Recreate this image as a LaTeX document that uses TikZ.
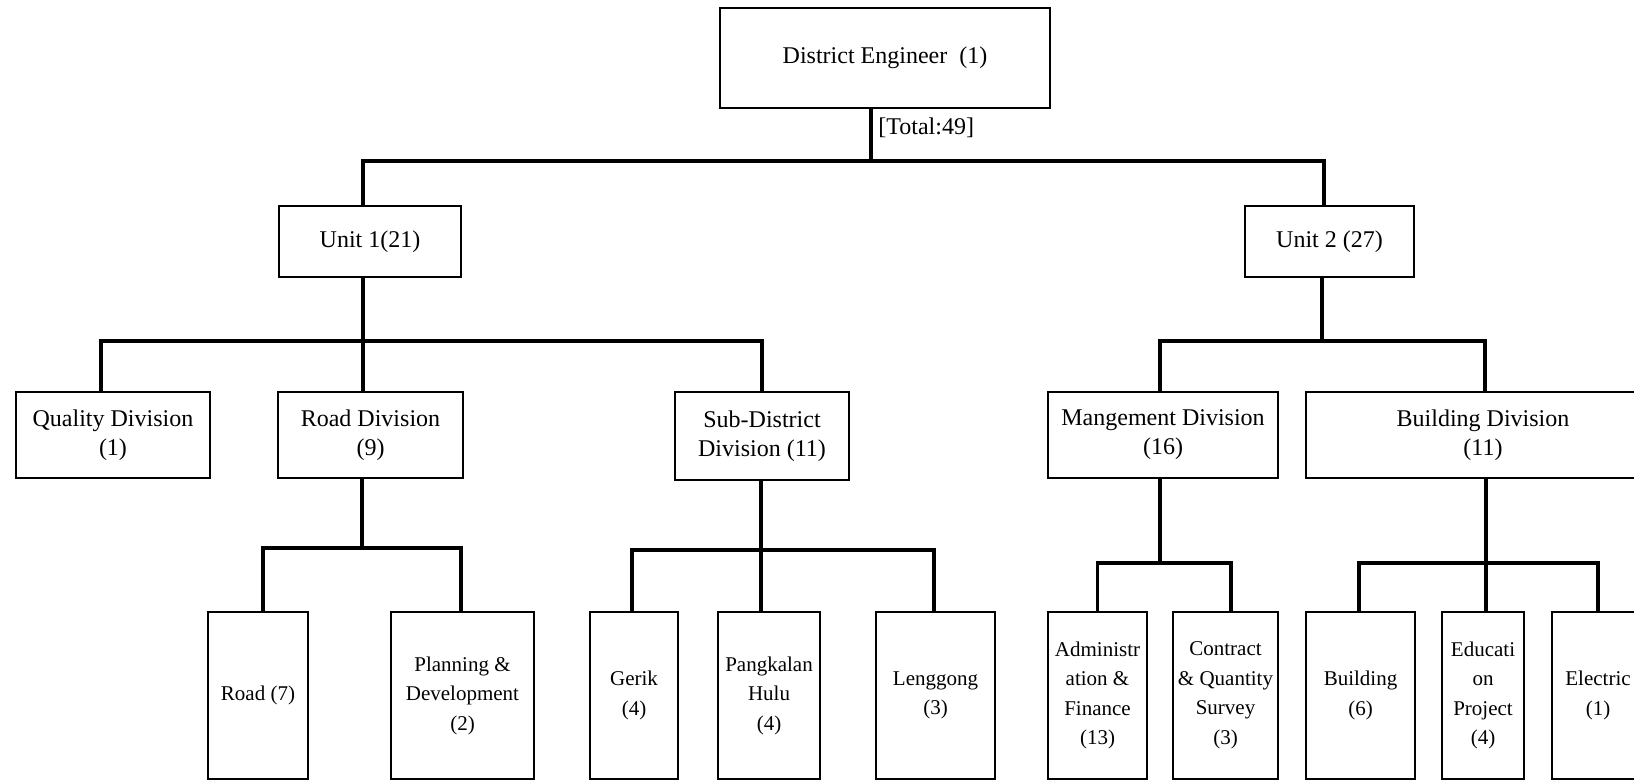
\documentclass[tikz,border=0pt]{standalone}
\usepackage{fontspec}
\setmainfont{Liberation Serif}
\begin{document}
\begin{tikzpicture}[x=0.5pt, y=-0.5pt,
  box/.style={draw, line width=1.4pt, inner sep=1pt, outer sep=0pt, align=center},
  topbox/.style={box, font=\fontsize{12}{14}\selectfont},
  midbox/.style={box, font=\fontsize{12}{14.5}\selectfont, minimum height=43pt},
  leafbox/.style={box, font=\fontsize{10.5}{14.75}\selectfont, minimum height=83.5pt},
  link/.style={line width=1.6pt}]
\clip (0,0) rectangle (1634,782);
\fill[white] (0,0) rectangle (1634,782);

% head of the district
\node[topbox, minimum width=165pt, minimum height=50pt] (de) at (885,58) {District Engineer~~(1)};
\node[anchor=west, font=\fontsize{12}{14}\selectfont, inner sep=0pt] (total) at (878,128) {[Total:49]};

% units
\node[topbox, minimum width=91pt, minimum height=35.5pt] (u1) at (370,241.5) {Unit 1(21)};
\node[topbox, minimum width=84.5pt, minimum height=35.5pt] (u2) at (1329.5,241.5) {Unit 2 (27)};

% divisions
\node[midbox, minimum width=97pt] (qd) at (113,435) {Quality Division\\(1)};
\node[midbox, minimum width=92.5pt] (rd) at (370.5,435) {Road Division\\(9)};
\node[midbox, minimum width=87pt, minimum height=44pt] (sd) at (762,436) {Sub-District\\Division (11)};
\node[midbox, minimum width=115pt] (md) at (1163,435) {Mangement Division\\(16)};
\node[midbox, minimum width=177pt] (bd) at (1483,435) {Building Division\\(11)};

% sections
\node[leafbox, minimum width=50pt] (road) at (258,695.5) {Road (7)};
\node[leafbox, minimum width=71.5pt] (plan) at (462.5,695.5) {Planning \&\\Development\\(2)};
\node[leafbox, minimum width=44pt] (gerik) at (634,695.5) {Gerik\\(4)};
\node[leafbox, minimum width=51pt] (pang) at (769,695.5) {Pangkalan\\Hulu\\(4)};
\node[leafbox, minimum width=59.5pt] (leng) at (935.5,695.5) {Lenggong\\(3)};
\node[leafbox, minimum width=49.5pt] (admin) at (1097.5,695.5) {Administr\\ation \&\\Finance\\(13)};
\node[leafbox, minimum width=52.5pt] (contr) at (1225.5,695.5) {Contract\\\& Quantity\\Survey\\(3)};
\node[leafbox, minimum width=54.5pt] (bldg) at (1360.5,695.5) {Building\\(6)};
\node[leafbox, minimum width=41pt] (edu) at (1483,695.5) {Educati\\on\\Project\\(4)};
\node[leafbox, minimum width=46pt] (elec) at (1598,695.5) {Electric\\(1)};

% junction points of the connectors
\coordinate (j0) at (871,161);
\coordinate (j1) at (363,341);
\coordinate (j2) at (1322,341);
\coordinate (j3) at (362,548);
\coordinate (j4) at (761,550);
\coordinate (j5) at (1160,563);
\coordinate (j6) at (1486,563);

% district engineer to units
\draw[link] (de.south -| j0) -- (j0);
\draw[link] ([xshift=-3.5pt]u1.north) |- (j0) -| ([xshift=-2.75pt]u2.north);

% unit 1 to its divisions
\draw[link] (u1.south -| j1) -- (j1) -- (rd.north -| j1);
\draw[link] ([xshift=-6pt]qd.north) |- (j1) -| (sd.north);

% unit 2 to its divisions
\draw[link] (u2.south -| j2) -- (j2);
\draw[link] ([xshift=-1.5pt]md.north) |- (j2) -| ([xshift=1pt]bd.north);

% road division
\draw[link] (rd.south -| j3) -- (j3);
\draw[link] ([xshift=2.5pt]road.north) |- (j3) -| ([xshift=-0.75pt]plan.north);

% sub-district division
\draw[link] (sd.south -| j4) -- (j4) -- (pang.north -| j4);
\draw[link] ([xshift=-1pt]gerik.north) |- (j4) -| ([xshift=-0.75pt]leng.north);

% management division
\draw[link] (md.south -| j5) -- (j5);
\draw[link] (admin.north) |- (j5) -| ([xshift=2.75pt]contr.north);

% building division
\draw[link] (bd.south -| j6) -- (j6) -- (edu.north -| j6);
\draw[link] ([xshift=-0.75pt]bldg.north) |- (j6) -| (elec.north);
\end{tikzpicture}
\end{document}
